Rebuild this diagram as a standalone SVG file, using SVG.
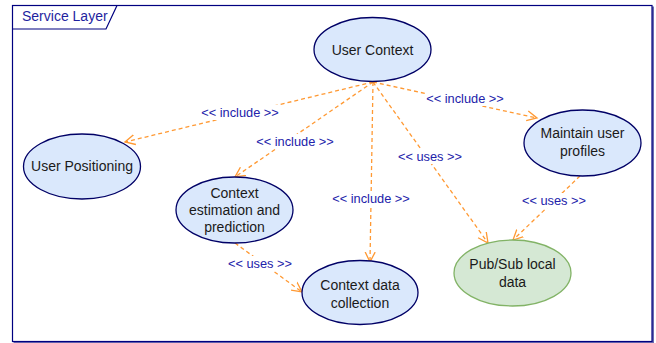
<svg xmlns="http://www.w3.org/2000/svg" width="656" height="343" viewBox="0 0 656 343">
<style>
.node{fill:#dae8fc;stroke:#000066;stroke-width:1.3}
.green{fill:#d5e8d4;stroke:#82b366;stroke-width:1.3}
.nt{font-family:"Liberation Sans",Arial,sans-serif;font-size:14px;fill:#1a1a1a;text-anchor:middle}
.lbl{font-family:"Liberation Sans",Arial,sans-serif;font-size:12.8px;fill:#2222aa;text-anchor:middle}
.edge{fill:none;stroke:#ff9933;stroke-width:1.3;stroke-dasharray:4 3;marker-end:url(#arr)}
.bg{fill:#ffffff}
</style>
<defs>
<marker id="arr" markerWidth="12" markerHeight="12" refX="10" refY="5" orient="auto" markerUnits="userSpaceOnUse" viewBox="0 0 12 10">
<path d="M0,0 L10,5 L0,10" fill="none" stroke="#ff9933" stroke-width="1.3"/>
</marker>
</defs>
<rect width="656" height="343" fill="#ffffff"/>
<g id="frame">
<path d="M653,6.5 V342.5 H13.5" fill="none" stroke="#6a6ab0" stroke-width="2"/>
<rect x="12.5" y="5.5" width="639.5" height="336" fill="none" stroke="#000080" stroke-width="1.2"/>
<path d="M12.5,29 H106 L117,5.5" fill="none" stroke="#000080" stroke-width="1.2"/>
<text x="22" y="21" font-family="Liberation Sans,Arial,sans-serif" font-size="14" fill="#1f1f9f">Service Layer</text>
</g>
<g id="connectors">
<path class="edge" d="M373,82 L125,142"/>
<path class="edge" d="M373,82 L235,177"/>
<path class="edge" d="M373,82 L370,262"/>
<path class="edge" d="M373,82 L488,243"/>
<path class="edge" d="M373,82 L537,118"/>
<path class="edge" d="M580,176 L513,240"/>
<path class="edge" d="M235,243 L302,292"/>
<rect class="bg" x="201" y="105" width="78" height="15"/>
<text class="lbl" x="240" y="117">&lt;&lt; include &gt;&gt;</text>
<rect class="bg" x="256" y="134" width="78" height="15"/>
<text class="lbl" x="295" y="146">&lt;&lt; include &gt;&gt;</text>
<rect class="bg" x="332" y="191" width="78" height="15"/>
<text class="lbl" x="371" y="203">&lt;&lt; include &gt;&gt;</text>
<rect class="bg" x="426" y="91" width="78" height="15"/>
<text class="lbl" x="465" y="103">&lt;&lt; include &gt;&gt;</text>
<rect class="bg" x="398" y="149" width="64" height="15"/>
<text class="lbl" x="430" y="161">&lt;&lt; uses &gt;&gt;</text>
<rect class="bg" x="522" y="193" width="64" height="15"/>
<text class="lbl" x="554" y="205">&lt;&lt; uses &gt;&gt;</text>
<rect class="bg" x="228" y="256" width="64" height="15"/>
<text class="lbl" x="260" y="268">&lt;&lt; uses &gt;&gt;</text>
</g>
<g id="user-context">
<ellipse class="node" cx="372.5" cy="49.5" rx="58.5" ry="32"/>
<text class="nt" x="372.5" y="54.5">User Context</text>
</g>
<g id="user-positioning">
<ellipse class="node" cx="82" cy="166.5" rx="58.5" ry="32.5"/>
<text class="nt" x="82" y="171">User Positioning</text>
</g>
<g id="context-estimation">
<ellipse class="node" cx="234.5" cy="210" rx="58.5" ry="33"/>
<text class="nt" x="234.5" y="198">Context</text>
<text class="nt" x="234.5" y="215">estimation and</text>
<text class="nt" x="234.5" y="232">prediction</text>
</g>
<g id="context-data">
<ellipse class="node" cx="360" cy="292.5" rx="58" ry="32"/>
<text class="nt" x="360" y="290">Context data</text>
<text class="nt" x="360" y="308">collection</text>
</g>
<g id="maintain-profiles">
<ellipse class="node" cx="582.5" cy="143" rx="58.5" ry="33"/>
<text class="nt" x="582.5" y="138">Maintain user</text>
<text class="nt" x="582.5" y="156">profiles</text>
</g>
<g id="pubsub">
<ellipse class="green" cx="512.5" cy="273" rx="58.5" ry="33"/>
<text class="nt" x="512.5" y="269">Pub/Sub local</text>
<text class="nt" x="512.5" y="287">data</text>
</g>
</svg>
